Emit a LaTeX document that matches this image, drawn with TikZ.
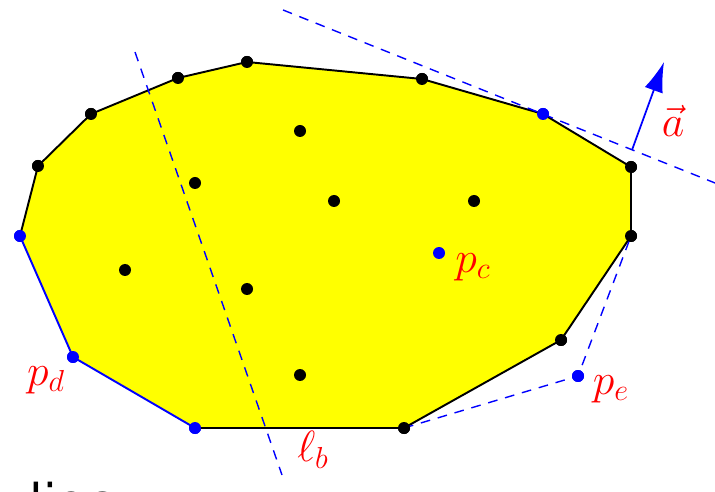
\documentclass[tikz,border=0pt]{standalone}
\usepackage{fontspec}
\usetikzlibrary{arrows.meta}
\newfontfamily\slidefont{DejaVu Sans}
\definecolor{hullyellow}{HTML}{FFFF00}
\definecolor{ptblue}{HTML}{0000FF}
\definecolor{lblred}{HTML}{FF0000}

\begin{document}
\begin{tikzpicture}[x=0.02cm, y=-0.02cm,
    pt/.style={circle, fill=black, inner sep=0pt, minimum size=0.24cm},
    bpt/.style={pt, fill=ptblue},
    hull/.style={draw=black, line width=1.1pt},
    bhull/.style={draw=ptblue, line width=1.1pt},
    guide/.style={draw=ptblue, dash pattern=on 5.5pt off 4.5pt, line width=0.8pt},
    lbl/.style={text=lblred, font=\fontsize{24}{28}\selectfont, inner sep=0pt},
    vec/.style={-{Latex[length=6mm,width=3.8mm]}, draw=ptblue, line width=1pt}
  ]
    \useasboundingbox (0,0) rectangle (715,492);

    % hull corners
    \node[bpt] (v1)  at (20,236)  {};
    \node[pt]  (v2)  at (38,166)  {};
    \node[pt]  (v3)  at (91,114)  {};
    \node[pt]  (v4)  at (178,78)  {};
    \node[pt]  (v5)  at (247,62)  {};
    \node[pt]  (v6)  at (422,79)  {};
    \node[bpt] (v7)  at (543,114) {};
    \node[pt]  (v8)  at (631,167) {};
    \node[pt]  (v9)  at (631,236) {};
    \node[pt]  (v10) at (561,340) {};
    \node[pt]  (v11) at (404,428) {};
    \node[bpt] (v12) at (195,428) {};
    \node[bpt] (v13) at (73,357)  {};

    \fill[hullyellow] (v1.center) -- (v2.center) -- (v3.center) -- (v4.center)
      -- (v5.center) -- (v6.center) -- (v7.center) -- (v8.center) -- (v9.center)
      -- (v10.center) -- (v11.center) -- (v12.center) -- (v13.center) -- cycle;
    \draw[hull] (v1.center) -- (v2.center) -- (v3.center) -- (v4.center)
      -- (v5.center) -- (v6.center) -- (v7.center) -- (v8.center) -- (v9.center)
      -- (v10.center) -- (v11.center) -- (v12.center);
    \draw[bhull] (v12.center) -- (v13.center) -- (v1.center);

    % outside point and its tangents
    \node[bpt] (pe) at (578,376) {};
    \draw[guide] (v11.center) -- (pe.center) -- (v9.center);

    % interior points
    \foreach \n/\x/\y in {q1/300/131, q2/195/183, q3/334/201, q4/474/201,
                          q5/125/270, q6/247/289, q7/300/375}
      \node[pt] (\n) at (\x,\y) {};
    \node[bpt] (pc) at (439,253) {};

    % redraw corner dots over the hull lines
    \foreach \n in {v2,v3,v4,v5,v6,v8,v9,v10,v11}
      \fill[black] (\n) circle[radius=0.12cm];
    \foreach \n in {v1,v7,v12,v13,pe}
      \fill[ptblue] (\n) circle[radius=0.12cm];

    % supporting line with direction a
    \coordinate (ta) at (283,10);
    \coordinate (tb) at (715,183);
    \draw[guide] (ta) -- (tb);
    \coordinate (abase) at (632,150);
    \coordinate (atip) at (664,62);
    \draw[vec] (abase) -- (atip);

    % line l_b
    \coordinate (lb1) at (135,52);
    \coordinate (lb2) at (282,475);
    \draw[guide] (lb1) -- (lb2);

    % labels
    \node[lbl] (lpc) at (473,267) {$p_c$};
    \node[lbl] (lpd) at (46,380)  {$p_d$};
    \node[lbl] (lpe) at (611,389) {$p_e$};
    \node[lbl] (lva) at (673,121) {$\vec{a}$};
    \node[lbl] (llb) at (313,450) {$\ell_b$};

    % cut-off text at the bottom
    \node[anchor=base west, inner sep=0pt, font=\slidefont\fontsize{28}{34}\selectfont]
      (foot) at (29,519) {lioc};
\end{tikzpicture}
\end{document}
